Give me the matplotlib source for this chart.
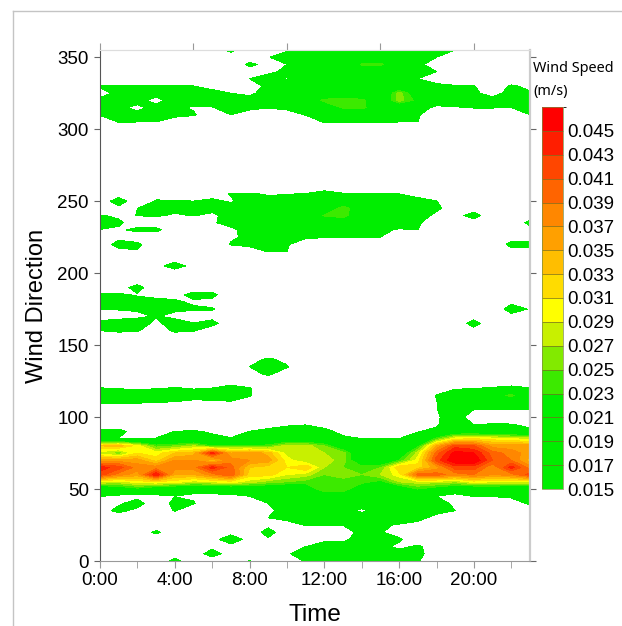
import matplotlib

matplotlib.use("Agg")

import matplotlib.pyplot as plt
import numpy as np
from matplotlib.colors import BoundaryNorm, ListedColormap
from matplotlib.lines import Line2D

plt.rcParams["font.family"] = ["Liberation Sans", "DejaVu Sans"]

hours = list(range(24))
x_ticks = [0, 4, 8, 12, 16, 20]
x_labels = ["0:00", "4:00", "8:00", "12:00", "16:00", "20:00"]
y_ticks = [0, 50, 100, 150, 200, 250, 300, 350]
directions = list(range(0, 360, 5))

# wind speed in 0.001 m/s, one list per direction, one value per hour
d000 = [10, 10, 10, 10, 17, 10, 10, 10, 15.2, 10, 13, 15.3, 18, 18, 18, 18, 18, 15.5, 11, 10, 10, 10, 10, 10]
d005 = [10, 10, 10, 10, 12, 10, 19, 11, 12, 10, 14.5, 17, 18, 18, 18, 18, 18, 16.5, 12, 10, 10, 10, 10, 10]
d010 = [10, 10, 10, 10, 10, 11, 13, 12, 10, 10, 11, 15, 17, 17, 17, 17, 13.5, 16, 12, 10, 10, 10, 10, 10]
d015 = [10, 10, 10, 10, 10, 10, 12, 20, 12, 14, 10, 12, 14, 14, 17, 17, 16, 11, 10, 10, 10, 10, 10, 10]
d020 = [10, 10, 10, 16.5, 10, 10, 10, 12, 10, 18, 10, 11, 12, 12, 17, 15.5, 12, 10, 10, 10, 10, 10, 10, 10]
d025 = [10, 10, 10, 10, 10, 10, 10, 10, 10, 13, 12, 15.5, 15.2, 15.2, 17, 15.5, 14.7, 14, 12, 10, 10, 10, 10, 10]
d030 = [10, 10, 10, 10, 10, 10, 10, 10, 12, 15, 17, 18, 18, 18, 18, 18, 17, 16, 14, 11, 10, 10, 10, 10]
d035 = [12, 17, 13, 10, 15.5, 10, 10, 10, 11, 14, 17, 18, 18, 17, 14, 17, 18, 17, 16, 15, 10, 10, 10, 11]
d040 = [13, 14, 18, 10, 17, 15.5, 10, 10, 12, 15, 18, 18, 18, 18, 18, 18, 18, 18, 17, 14, 11, 11, 12, 16]
d045 = [15.2, 14, 13, 14, 14.9, 14, 14, 14, 15, 17, 19, 19, 20, 19, 19, 18, 18, 20, 15, 13, 15.2, 15.2, 16, 16]
d050 = [18, 20, 22, 19, 18, 17, 17, 18, 18, 19, 18, 20, 25, 25, 19, 19, 19, 23, 21, 19, 18, 19, 18, 18]
d055 = [29, 28, 30, 31, 30, 28, 29, 30, 28, 26, 25, 24, 24, 24, 24, 22, 27, 28, 28, 27, 30, 29, 29, 29]
d060 = [42, 38, 36, 45, 35, 35, 38, 41, 32, 32, 29, 28, 25, 26, 25, 27, 30, 40, 40, 38, 39, 37, 38, 42]
d065 = [44, 42, 38, 38, 38, 38, 44, 40, 33, 32, 31, 33, 27, 25, 24, 25, 33, 32, 36, 42, 42, 37, 44, 38]
d070 = [36, 36, 36, 32, 37, 37, 33, 38, 37, 36, 30, 27, 28, 26, 19, 18, 23, 30, 42, 47, 47, 41, 39, 34]
d075 = [28, 25, 31, 30, 33, 34, 44, 35, 37, 34, 28, 28, 27, 26, 18, 18, 19, 28, 40, 46, 45, 40, 38, 36]
d080 = [33, 34, 30, 24, 25, 27, 23, 24, 23, 24, 28, 28, 25, 19, 18, 18, 17, 22, 35, 42, 41, 36, 36, 36]
d085 = [14.8, 14.8, 14.7, 15.2, 16, 17, 16, 15.3, 16.5, 17, 18, 18, 17, 16, 15, 15, 15, 16, 24, 30, 31, 30, 29, 28]
d090 = [17, 17, 12, 13, 15.1, 15.5, 14.5, 13, 15.1, 16, 16.5, 17, 16.5, 13.5, 11, 11, 11, 14.9, 15.5, 19, 19, 18, 18, 16]
d095 = [11, 11, 10, 10, 11, 11, 10, 10, 12, 13.5, 14.5, 14.8, 13, 11, 10, 10, 10, 11, 14.7, 17, 14.9, 15.2, 15.1, 14]
d100 = [10, 10, 10, 10, 10, 10, 10, 10, 10, 10, 10, 10, 10, 10, 10, 10, 10, 10, 14.5, 17, 13, 12, 12, 12]
d105 = [12, 11, 11, 11, 11, 11, 10, 10, 10, 10, 10, 10, 10, 10, 10, 10, 10, 11, 14.8, 18, 14.9, 14.8, 14.8, 14.8]
d110 = [15.5, 15.5, 15.3, 14.9, 14.8, 14, 14, 14.5, 12, 10, 10, 10, 10, 10, 10, 10, 10, 12, 14.9, 17, 18, 18, 18, 17]
d115 = [17, 17, 17, 17, 16.5, 16.5, 17, 17, 15.5, 11, 10, 10, 10, 10, 10, 10, 10, 11, 15.2, 18, 18, 21, 24, 18]
d120 = [15.2, 14.8, 14.7, 14.8, 15.3, 14.8, 15.1, 16.5, 15.3, 12, 10, 10, 10, 10, 10, 10, 10, 10, 13, 14.5, 14.9, 15.3, 15.7, 15.2]
d125 = [12, 11, 11, 11, 12, 11, 12, 13, 12, 12, 10, 10, 10, 10, 10, 10, 10, 10, 10, 11, 12, 13, 13.5, 12]
d130 = [10, 10, 10, 10, 10, 10, 10, 10, 13, 16, 12, 10, 10, 10, 10, 10, 10, 10, 10, 10, 10, 10, 10, 10]
d135 = [10, 10, 10, 10, 10, 10, 10, 10, 15, 18, 15.5, 10, 10, 10, 10, 10, 10, 10, 10, 10, 10, 10, 10, 10]
d140 = [10, 10, 10, 10, 10, 10, 10, 10, 13, 16, 13.5, 10, 10, 10, 10, 10, 10, 10, 10, 10, 10, 10, 10, 10]
d145 = [10, 10, 10, 10, 10, 10, 10, 10, 10, 11, 10, 10, 10, 10, 10, 10, 10, 10, 10, 10, 10, 10, 10, 10]
d150 = [10, 10, 10, 10, 10, 10, 10, 10, 10, 10, 10, 10, 10, 10, 10, 10, 10, 10, 10, 10, 10, 10, 10, 10]
d155 = [10, 11, 11, 10, 11, 10, 10, 10, 10, 10, 10, 10, 10, 10, 10, 10, 10, 10, 10, 10, 10, 10, 10, 10]
d160 = [15, 16, 15.5, 12, 16, 15.5, 11, 10, 10, 10, 10, 10, 10, 10, 10, 10, 10, 10, 10, 10, 12, 10, 10, 10]
d165 = [17, 18, 18, 13.5, 18, 15.5, 17, 11, 10, 10, 10, 10, 10, 10, 10, 10, 10, 10, 10, 10, 18, 10, 10, 10]
d170 = [12, 13, 14, 15.4, 13.5, 10, 13, 10, 10, 10, 10, 10, 10, 10, 10, 10, 10, 10, 10, 10, 12, 10, 13, 15]
d175 = [15, 15.3, 15.5, 16.5, 16, 16, 15.5, 11, 10, 10, 10, 10, 10, 10, 10, 10, 10, 10, 10, 10, 10, 10, 18, 14.5]
d180 = [17, 17, 17, 16, 16, 14, 13, 10, 10, 10, 10, 10, 10, 10, 10, 10, 10, 10, 10, 10, 10, 10, 13.5, 11]
d185 = [15.5, 15.7, 14.5, 14, 13, 17, 17, 10, 10, 10, 10, 10, 10, 10, 10, 10, 10, 10, 10, 10, 10, 10, 10, 10]
d190 = [11, 12, 17.5, 10, 10, 11, 11, 10, 10, 10, 10, 10, 10, 10, 10, 10, 10, 10, 10, 10, 10, 10, 10, 10]
d195 = [10, 10, 11, 10, 10, 10, 10, 10, 10, 10, 10, 10, 10, 10, 10, 10, 10, 10, 10, 10, 10, 10, 10, 10]
d200 = [10, 10, 10, 10, 10, 10, 10, 10, 10, 10, 10, 10, 10, 10, 10, 10, 10, 10, 10, 10, 10, 10, 10, 10]
d205 = [10, 10, 10, 12, 19, 12, 10, 10, 10, 10, 10, 10, 10, 10, 10, 10, 10, 10, 10, 10, 10, 10, 10, 10]
d210 = [10, 10, 10, 10, 11, 10, 10, 10, 10, 11, 10, 10, 10, 10, 10, 10, 10, 10, 10, 10, 10, 10, 11, 11]
d215 = [10, 13, 14.5, 10, 10, 10, 10, 10, 13, 15.2, 15, 10, 10, 10, 10, 10, 10, 10, 10, 10, 10, 10, 13, 13]
d220 = [11, 17.5, 16.5, 10, 10, 10, 10, 15.5, 16, 16, 15.5, 12, 11, 11, 11, 10, 10, 10, 10, 10, 10, 10, 17, 17]
d225 = [11, 13, 11, 11, 10, 10, 10, 14, 16.5, 17, 16.5, 15.8, 15.3, 15.4, 15, 15, 10, 10, 10, 10, 10, 10, 12, 12]
d230 = [14.8, 14, 16.5, 16.5, 11, 11, 12, 14, 17, 17.5, 17.5, 17, 16.5, 16.8, 16.5, 16, 14.5, 15, 11, 10, 10, 10, 10, 12]
d235 = [17.5, 16, 12, 12, 10, 12, 14.5, 16.5, 18, 18, 18, 17.5, 17.5, 17.5, 17.5, 17.5, 17.5, 15.5, 13, 10, 12, 10, 10, 17]
d240 = [15.5, 14, 15.1, 15.5, 14.5, 15.2, 14, 17, 18, 18, 18, 18, 23.5, 25, 18, 17, 17, 17, 14, 13, 17.5, 10, 10, 11]
d245 = [10, 13, 15, 17, 16, 15.5, 16.5, 17, 18, 18, 18, 18, 18, 25, 19, 18, 18, 17, 15.8, 13, 12, 10, 10, 10]
d250 = [10, 19, 10, 15.4, 15.3, 15, 16, 14.5, 17, 17, 17, 18, 18, 18, 18, 18, 18, 16, 15.1, 11, 10, 10, 10, 10]
d255 = [10, 11, 10, 13, 13, 11, 13, 15.3, 15.5, 14.5, 14.8, 15.3, 16.5, 15.5, 15.3, 15.2, 15, 14, 11, 10, 10, 10, 10, 10]
d260 = [10, 10, 10, 10, 10, 10, 10, 11, 11, 10, 10, 11, 13, 11, 10, 10, 10, 10, 10, 10, 10, 10, 10, 10]
d265 = [10, 10, 10, 10, 10, 10, 10, 10, 10, 10, 10, 10, 10, 10, 10, 10, 10, 10, 10, 10, 10, 10, 10, 10]
d270 = [10, 10, 10, 10, 10, 10, 10, 10, 10, 10, 10, 10, 10, 10, 10, 10, 10, 10, 10, 10, 10, 10, 10, 10]
d275 = [10, 10, 10, 10, 10, 10, 10, 10, 10, 10, 10, 10, 10, 10, 10, 10, 10, 10, 10, 10, 10, 10, 10, 10]
d280 = [10, 10, 10, 10, 10, 10, 10, 10, 10, 10, 10, 10, 10, 10, 10, 10, 10, 10, 10, 10, 10, 10, 10, 10]
d285 = [10, 10, 10, 10, 10, 10, 10, 10, 10, 10, 10, 10, 10, 10, 10, 10, 10, 10, 10, 10, 10, 10, 10, 10]
d290 = [10, 10, 10, 10, 10, 10, 10, 10, 10, 10, 10, 10, 10, 10, 10, 10, 10, 10, 10, 10, 10, 10, 10, 10]
d295 = [10, 10, 10, 10, 10, 10, 10, 10, 10, 10, 10, 10, 10, 10, 10, 10, 10, 10, 10, 10, 10, 10, 10, 10]
d300 = [10, 12, 12, 11, 10, 10, 10, 10, 10, 10, 10, 10, 12, 12, 12, 11, 11, 11, 10, 10, 10, 10, 10, 10]
d305 = [12, 15.2, 15, 15, 13, 11, 10, 10, 10, 10, 10, 12, 15.4, 15.5, 15.3, 15.3, 15, 15, 11, 10, 10, 10, 10, 12]
d310 = [15.3, 16, 16, 16, 16, 15.5, 12, 15, 13, 12, 13, 15.2, 16, 16, 16, 16.5, 16, 15.5, 12, 11, 12, 12, 12, 15]
d315 = [15.5, 16, 14, 16.5, 16, 14.5, 14.8, 17, 16, 15.2, 16, 18, 19, 23.5, 24.5, 18, 18, 17, 14, 14.7, 15.2, 15.2, 15, 15.3]
d320 = [16, 16, 16.5, 13.5, 17, 17, 17, 16, 16, 18, 18, 19, 24, 25, 24, 19, 26, 22, 18, 17, 17, 16, 17, 17]
d325 = [13.5, 16, 18, 17, 17, 17, 16, 15, 14.5, 16, 18, 18, 18, 18, 18, 18, 26, 20, 17, 17, 15.5, 14, 16, 15.5]
d330 = [15.5, 15.5, 15.5, 15.5, 15, 15, 14, 12, 13, 16, 18, 18, 18, 18, 18, 18, 18, 17.5, 16.5, 15.5, 15.2, 12, 15.5, 14]
d335 = [11, 11, 11, 11, 11, 10, 10, 10, 15, 17, 14.7, 18, 18, 18, 18, 18, 18, 15, 12, 10, 11, 10, 12, 11]
d340 = [10, 10, 10, 10, 10, 10, 10, 10, 12, 14, 16, 18, 18, 18, 18, 18, 18, 18, 15, 12, 10, 10, 10, 10]
d345 = [10, 10, 10, 10, 10, 10, 10, 10, 16.5, 13, 15, 17, 18, 18, 23.5, 24, 18, 16, 13, 10, 10, 10, 10, 10]
d350 = [10, 10, 10, 10, 10, 10, 10, 11, 11, 14.8, 17, 18, 18, 18, 18, 18, 18, 17, 15, 12, 10, 10, 10, 10]
d355 = [10, 10, 10, 10, 10, 10, 10, 17, 10, 10, 14.5, 16, 14.5, 17, 17, 17, 17, 17, 16, 15, 11, 10, 10, 10]

rows = [
    d000, d005, d010, d015, d020, d025, d030, d035, d040, d045, d050, d055,
    d060, d065, d070, d075, d080, d085, d090, d095, d100, d105, d110, d115,
    d120, d125, d130, d135, d140, d145, d150, d155, d160, d165, d170, d175,
    d180, d185, d190, d195, d200, d205, d210, d215, d220, d225, d230, d235,
    d240, d245, d250, d255, d260, d265, d270, d275, d280, d285, d290, d295,
    d300, d305, d310, d315, d320, d325, d330, d335, d340, d345, d350, d355,
]

levels = [0.015, 0.017, 0.019, 0.021, 0.023, 0.025, 0.027, 0.029, 0.031,
          0.033, 0.035, 0.037, 0.039, 0.041, 0.043, 0.045, 0.047]
level_labels = ["0.015", "0.017", "0.019", "0.021", "0.023", "0.025", "0.027", "0.029",
                "0.031", "0.033", "0.035", "0.037", "0.039", "0.041", "0.043", "0.045"]
level_colors = ["#00ee00", "#00ee00", "#00ee00", "#00ee00", "#3cea00", "#82ea00", "#c8f000", "#ffff00",
                "#ffdc00", "#ffbe00", "#ffa000", "#ff8700", "#ff6400", "#ff4600", "#ff1e00", "#ff0000"]

W, H = 622, 626
fig = plt.figure(figsize=(W / 100, H / 100), dpi=100)
ax = fig.add_axes([100 / W, 1 - 561 / H, 430 / W, 511 / H])

speed = np.array(rows) * 0.001
cmap = ListedColormap(level_colors)
norm = BoundaryNorm(levels, cmap.N)
filled = ax.contourf(hours, directions, speed, levels=levels, cmap=cmap, norm=norm)

ax.set_xlim(0, 23)
ax.set_ylim(0, 355)
ax.set_xticks(x_ticks, x_labels, fontsize=13.5)
ax.set_xticks(range(0, 23, 2), minor=True)
ax.set_yticks(y_ticks)
ax.tick_params(axis="y", labelsize=13.5, length=4, color="#666666", right=True, pad=4)
ax.tick_params(axis="x", which="both", length=5, color="#999999", pad=3)
ax.set_xlabel("Time", fontsize=17.5, labelpad=11)
ax.set_ylabel("Wind Direction", fontsize=17, labelpad=7)

top = ax.secondary_xaxis("top")
top.set_xticks([0, 5, 10, 15, 20], ["", "", "", "", ""])
top.tick_params(length=5, color="#999999")
top.spines["top"].set_color("#dddddd")

ax.spines["left"].set_color("#555555")
ax.spines["bottom"].set_color("#999999")
ax.spines["right"].set_color("#cccccc")
ax.spines["right"].set_linewidth(1.6)
ax.spines["top"].set_color("#dddddd")

cax = fig.add_axes([542 / W, 1 - 489 / H, 21 / W, 382 / H])
cbar = fig.colorbar(filled, cax=cax, ticks=levels[:-1], drawedges=True)
cbar.ax.set_yticklabels(level_labels, fontsize=13.5)
cbar.ax.tick_params(length=0, pad=3)
cbar.dividers.set_color("#7a6a20")
cbar.dividers.set_linewidth(0.5)
cbar.outline.set_edgecolor("#7a8a40")
cbar.outline.set_linewidth(0.5)

fig.text(533 / W, 1 - 68 / H, "Wind Speed", family="Noto Sans", fontsize=10.4, va="center")
fig.text(533 / W, 1 - 91 / H, "(m/s)", family="Noto Sans", fontsize=10.4, va="center")

# page frame around the figure
fig.add_artist(Line2D([13 / W, 13 / W], [0, 1 - 11 / H], color="#c4c4c4", lw=1))
fig.add_artist(Line2D([13 / W, 1], [1 - 11 / H, 1 - 11 / H], color="#c4c4c4", lw=1))

fig.savefig("out.png", dpi=100)
plt.close(fig)
